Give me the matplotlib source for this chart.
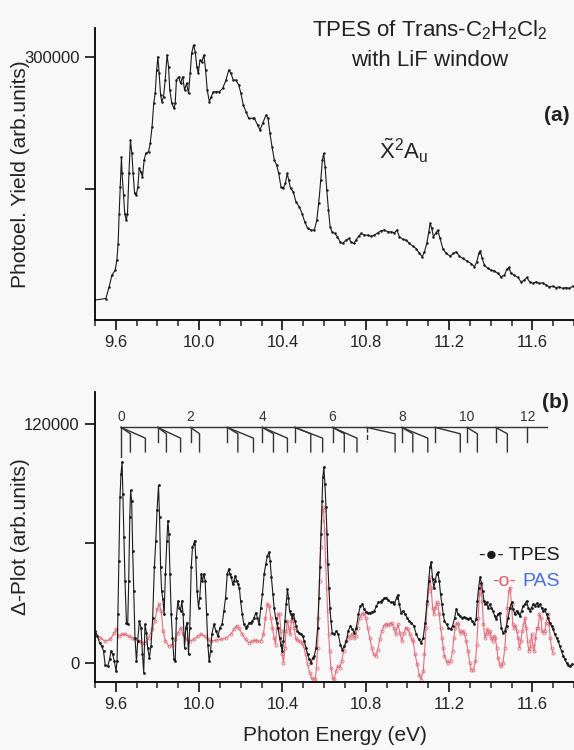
import matplotlib
matplotlib.use('Agg')
import matplotlib.pyplot as plt
from matplotlib.ticker import MultipleLocator, FormatStrFormatter

plt.rcParams['font.family'] = ['Liberation Sans', 'DejaVu Sans']
plt.rcParams['mathtext.fontset'] = 'custom'
plt.rcParams['mathtext.rm'] = 'Liberation Sans'
plt.rcParams['mathtext.it'] = 'Liberation Sans:italic'
plt.rcParams['mathtext.bf'] = 'Liberation Sans:bold'

# ---- (a) TPES with LiF window, photoelectron yield ----
top_E = [9.496, 9.552, 9.568, 9.581, 9.597, 9.605, 9.611, 9.616, 9.621, 9.627, 9.630,
         9.637, 9.643, 9.650, 9.656, 9.663, 9.670, 9.677, 9.683, 9.690, 9.698, 9.706,
         9.712, 9.720, 9.728, 9.736, 9.744, 9.757, 9.765, 9.774, 9.782, 9.789, 9.796,
         9.802, 9.808, 9.815, 9.821, 9.829, 9.837, 9.846, 9.853, 9.859, 9.869, 9.879,
         9.885, 9.891, 9.901, 9.911, 9.921, 9.930, 9.940, 9.949, 9.957, 9.964, 9.973,
         9.981, 9.989, 9.996, 10.004, 10.013, 10.023, 10.031, 10.039, 10.049, 10.058,
         10.068, 10.081, 10.097, 10.113, 10.129, 10.142, 10.153, 10.164, 10.177, 10.190,
         10.201, 10.212, 10.225, 10.238, 10.257, 10.265, 10.281, 10.292, 10.305, 10.321,
         10.331, 10.340, 10.350, 10.361, 10.372, 10.382, 10.393, 10.404, 10.414, 10.423,
         10.430, 10.439, 10.452, 10.465, 10.481, 10.494, 10.507, 10.521, 10.537, 10.553,
         10.565, 10.574, 10.584, 10.592, 10.598, 10.605, 10.613, 10.621, 10.629, 10.638,
         10.651, 10.664, 10.677, 10.689, 10.705, 10.718, 10.729, 10.742, 10.753, 10.766,
         10.778, 10.793, 10.809, 10.825, 10.842, 10.858, 10.874, 10.890, 10.906, 10.922,
         10.938, 10.949, 10.962, 10.978, 10.994, 11.010, 11.026, 11.042, 11.058, 11.071,
         11.082, 11.093, 11.103, 11.109, 11.117, 11.125, 11.135, 11.146, 11.157, 11.170,
         11.186, 11.205, 11.221, 11.234, 11.250, 11.266, 11.285, 11.306, 11.322, 11.333,
         11.343, 11.350, 11.359, 11.370, 11.386, 11.402, 11.418, 11.434, 11.450, 11.466,
         11.477, 11.487, 11.498, 11.514, 11.530, 11.546, 11.562, 11.573, 11.587, 11.603,
         11.618, 11.634, 11.650, 11.666, 11.682, 11.698, 11.714, 11.730, 11.746, 11.762,
         11.778, 11.794]
top_yield = [116500, 117700, 126500, 135300, 139100, 146600, 159000, 181800, 202000, 224600, 212000,
             195700, 181800, 176800, 181800, 212000, 237100, 227100, 212000, 196900, 195700, 202000,
             215800, 213300, 209500, 222100, 227100, 228400, 234600, 247200, 264800, 272300, 290000,
             300000, 287400, 271100, 266100, 269800, 282400, 301300, 292500, 274900, 264800, 261000,
             264800, 282400, 284900, 279900, 284900, 274900, 279900, 272300, 287400, 302500, 308800,
             303800, 292500, 287400, 297500, 296200, 301300, 290000, 274900, 266100, 269800,
             273600, 273600, 273600, 276100, 282400, 290000, 287400, 282400, 282400, 278600,
             272300, 263500, 258500, 253500, 253500, 253500, 248500, 244700, 249700, 256000,
             253500, 242200, 232100, 222100, 218300, 212000, 202000, 200700, 204500, 212000,
             207000, 200700, 198200, 190600, 186900, 181800, 175600, 170500, 169300, 169300,
             176800, 189400, 207000, 222100, 227100, 217000, 199400, 184400, 171800, 168000,
             166800, 164300, 160500, 159200, 161700, 163000, 160500, 159200, 161700, 164700,
             166800, 165500, 165500, 164700, 165500, 167300, 168800, 169300, 168000, 168000,
             167300, 169300, 164300, 162300, 161700, 159200, 157200, 155400, 151700, 149200,
             152900, 159200, 168000, 174300, 170500, 164300, 166800, 169300, 163000, 155400,
             151700, 149700, 151700, 152900, 149700, 147900, 146100, 144100, 141600, 145400,
             151700, 153700, 147900, 142900, 140400, 139100, 138600, 136600, 134100, 135300,
             139600, 141100, 136600, 135300, 133600, 130300, 131600, 133600, 130300, 129100,
             130300, 129100, 129600, 127800, 126500, 127000, 126000, 126500, 125300, 126000,
             125300, 127000]

# ---- (b) Delta-plot: TPES and PAS ----
tpes_E = [9.501, 9.512, 9.522, 9.532, 9.541, 9.549, 9.561, 9.570, 9.577, 9.585, 9.593,
          9.601, 9.606, 9.610, 9.615, 9.620, 9.625, 9.630, 9.634, 9.639, 9.644, 9.651,
          9.657, 9.662, 9.667, 9.671, 9.676, 9.681, 9.686, 9.692, 9.699, 9.705, 9.713,
          9.721, 9.728, 9.734, 9.740, 9.747, 9.753, 9.761, 9.769, 9.777, 9.785, 9.792,
          9.798, 9.805, 9.810, 9.815, 9.820, 9.826, 9.832, 9.838, 9.845, 9.850, 9.855,
          9.860, 9.866, 9.872, 9.879, 9.885, 9.891, 9.898, 9.904, 9.911, 9.917, 9.923,
          9.930, 9.936, 9.942, 9.949, 9.955, 9.962, 9.968, 9.974, 9.979, 9.984, 9.990,
          9.997, 10.003, 10.010, 10.016, 10.023, 10.029, 10.036, 10.042, 10.048, 10.055,
          10.061, 10.071, 10.081, 10.090, 10.100, 10.110, 10.119, 10.127, 10.135, 10.142,
          10.148, 10.155, 10.161, 10.167, 10.174, 10.180, 10.186, 10.193, 10.199, 10.207,
          10.215, 10.224, 10.232, 10.240, 10.248, 10.256, 10.264, 10.272, 10.280, 10.288,
          10.296, 10.304, 10.312, 10.320, 10.328, 10.336, 10.341, 10.347, 10.354, 10.360,
          10.367, 10.373, 10.379, 10.386, 10.392, 10.399, 10.405, 10.412, 10.418, 10.424,
          10.429, 10.434, 10.440, 10.447, 10.453, 10.460, 10.466, 10.472, 10.480, 10.489,
          10.497, 10.505, 10.513, 10.521, 10.529, 10.537, 10.545, 10.553, 10.561, 10.569,
          10.575, 10.580, 10.585, 10.590, 10.594, 10.599, 10.604, 10.609, 10.614, 10.618,
          10.623, 10.628, 10.633, 10.639, 10.649, 10.659, 10.668, 10.678, 10.687, 10.697,
          10.707, 10.716, 10.726, 10.736, 10.745, 10.755, 10.765, 10.774, 10.784, 10.793,
          10.803, 10.813, 10.822, 10.832, 10.842, 10.851, 10.861, 10.871, 10.880, 10.890,
          10.899, 10.909, 10.919, 10.929, 10.938, 10.948, 10.954, 10.961, 10.970, 10.980,
          10.989, 10.999, 11.009, 11.018, 11.031, 11.043, 11.054, 11.066, 11.076, 11.085,
          11.095, 11.102, 11.108, 11.114, 11.121, 11.127, 11.134, 11.140, 11.146, 11.153,
          11.159, 11.166, 11.172, 11.178, 11.188, 11.197, 11.207, 11.217, 11.227, 11.235,
          11.243, 11.252, 11.262, 11.272, 11.281, 11.291, 11.301, 11.311, 11.320, 11.330,
          11.336, 11.342, 11.349, 11.355, 11.361, 11.368, 11.374, 11.380, 11.387, 11.395,
          11.403, 11.411, 11.419, 11.427, 11.435, 11.443, 11.451, 11.459, 11.468, 11.476,
          11.484, 11.492, 11.500, 11.508, 11.516, 11.524, 11.532, 11.540, 11.548, 11.556,
          11.564, 11.572, 11.580, 11.588, 11.596, 11.604, 11.612, 11.620, 11.628, 11.636,
          11.644, 11.652, 11.660, 11.668, 11.676, 11.684, 11.692, 11.700, 11.708, 11.716,
          11.724, 11.732, 11.740, 11.748, 11.756, 11.764, 11.772, 11.780, 11.791]
tpes_delta = [16000, 13400, 10100, 8400, 5900, -1200, -1700, 1700, 5900, 4200, 800,
              -4200, 800, 24400, 51300, 83200, 95000, 100900, 84900, 63000, 41200, 20200,
              19300, 41200, 73100, 86600, 81500, 56300, 36100, 12600, 800, 10900, 21000,
              17700, 4200, -5000, 19300, 15100, 7600, 2500, 8400, 22700, 47900, 61400,
              76500, 89100, 73100, 47900, 36100, 31900, 24400, 44500, 61400, 71400, 64700,
              44500, 24400, 12600, 1700, 800, 22700, 31100, 27700, 26100, 31100, 24400,
              7600, 17700, 20200, 4200, 17700, 47900, 58000, 59700, 61400, 53000, 36100,
              27700, 32800, 44500, 41200, 44500, 41200, 24400, 9200, 800, 5900,
              14300, 19300, 16000, 13400, 17700, 19300, 26100, 32800, 44500, 47100,
              44500, 42900, 39500, 41200, 43700, 41200, 39500, 37800, 31100, 24400,
              19300, 17700, 18500, 20200, 20000, 21000, 22700, 25200, 22700, 19300,
              27700, 34500, 44500, 49600, 53800, 55500, 51300, 42900, 34500, 27700,
              22700, 20200, 17700, 12600, 9200, 5900, 10900, 21000, 29400, 37000,
              32800, 26100, 24400, 22700, 24400, 21000, 18500, 16000, 15100, 14300,
              13400, 10900, 7600, 4200, 1700, 0, 2500, 3400, 7600, 17700,
              32800, 47900, 64700, 81500, 93300, 98300, 89900, 78200, 64700, 49600,
              37800, 27700, 21000, 15100, 14300, 16000, 14300, 9200, 6700, 8400,
              10900, 16000, 18500, 16800, 15100, 17700, 24400, 28600, 29400, 26900,
              25700, 25200, 25200, 25700, 26100, 28600, 30300, 30800, 31400, 32400,
              32800, 31400, 30300, 30300, 29400, 32800, 34100, 29400, 25200, 26100,
              24400, 22700, 21000, 20200, 18500, 14300, 11800, 10100, 12600, 20200,
              31100, 41200, 47900, 50400, 42000, 37800, 41200, 44500, 45400, 41200,
              34500, 29400, 24400, 21000, 19300, 17700, 16800, 18500, 22700, 26900,
              24400, 23500, 22700, 23000, 22700, 21900, 22700, 21000, 19300, 21900,
              31100, 37800, 42900, 40300, 36100, 31100, 29400, 30300, 27700, 29400,
              27700, 26100, 23500, 21900, 24400, 25200, 17700, 15100, 16000, 18500,
              22700, 27700, 30300, 26900, 24400, 26100, 25200, 23500, 26100, 28600,
              29400, 31100, 27700, 26100, 27700, 29400, 28600, 29900, 28600, 29400,
              27700, 26100, 26900, 24400, 22700, 20200, 18500, 16800, 14300, 12600,
              10900, 8400, 5900, 3400, 1700, 0, -1200, -1700, -500]

pas_E = [9.501, 9.524, 9.549, 9.573, 9.593, 9.602, 9.614, 9.630, 9.646, 9.662, 9.678,
         9.694, 9.710, 9.726, 9.742, 9.758, 9.774, 9.787, 9.798, 9.808, 9.818, 9.827,
         9.838, 9.855, 9.870, 9.886, 9.899, 9.911, 9.923, 9.939, 9.955, 9.975, 9.994,
         10.010, 10.026, 10.042, 10.058, 10.079, 10.103, 10.127, 10.151, 10.167, 10.180,
         10.191, 10.207, 10.223, 10.239, 10.256, 10.267, 10.280, 10.296, 10.309, 10.318,
         10.328, 10.336, 10.344, 10.352, 10.360, 10.367, 10.373, 10.379, 10.386, 10.392,
         10.399, 10.405, 10.412, 10.418, 10.424, 10.431, 10.437, 10.443, 10.450, 10.456,
         10.463, 10.472, 10.482, 10.492, 10.502, 10.511, 10.521, 10.531, 10.540, 10.550,
         10.558, 10.564, 10.569, 10.573, 10.578, 10.583, 10.588, 10.593, 10.598, 10.602,
         10.607, 10.612, 10.617, 10.622, 10.627, 10.633, 10.641, 10.649, 10.657, 10.665,
         10.675, 10.684, 10.694, 10.704, 10.713, 10.723, 10.733, 10.742, 10.752, 10.761,
         10.771, 10.781, 10.790, 10.800, 10.809, 10.819, 10.829, 10.838, 10.848, 10.858,
         10.867, 10.877, 10.887, 10.896, 10.906, 10.916, 10.925, 10.935, 10.944, 10.954,
         10.964, 10.973, 10.983, 10.993, 11.002, 11.012, 11.022, 11.028, 11.037, 11.047,
         11.057, 11.066, 11.076, 11.082, 11.089, 11.095, 11.102, 11.108, 11.114, 11.121,
         11.127, 11.134, 11.140, 11.146, 11.153, 11.159, 11.166, 11.172, 11.178, 11.188,
         11.197, 11.207, 11.217, 11.223, 11.230, 11.236, 11.243, 11.251, 11.259, 11.267,
         11.275, 11.283, 11.291, 11.299, 11.307, 11.317, 11.327, 11.333, 11.340, 11.346,
         11.352, 11.359, 11.365, 11.372, 11.378, 11.384, 11.391, 11.397, 11.403, 11.409,
         11.416, 11.422, 11.429, 11.435, 11.443, 11.451, 11.459, 11.468, 11.474, 11.480,
         11.487, 11.493, 11.500, 11.506, 11.512, 11.519, 11.525, 11.532, 11.538, 11.545,
         11.551, 11.558, 11.564, 11.570, 11.577, 11.583, 11.590, 11.596, 11.602, 11.609,
         11.615, 11.622, 11.628, 11.634, 11.641, 11.647, 11.654, 11.660, 11.667, 11.673,
         11.680, 11.686, 11.692, 11.699]
pas_delta = [14600, 12600, 10900, 11800, 15100, 16800, 13400, 14300, 14300, 13400, 12600,
             11800, 10900, 10100, 10100, 12600, 16800, 21000, 26900, 29400, 26100, 16000,
             10900, 8400, 9200, 11800, 15100, 17700, 14300, 11800, 10900, 11800, 13400,
             14300, 13400, 11800, 10900, 11300, 11800, 12300, 14300, 16800, 18500,
             17300, 14300, 11800, 10100, 10900, 11300, 10900, 10900, 14300, 22700,
             29400, 28600, 22700, 17700, 12600, 9200, 17700, 24400, 24400, 16000,
             4200, 0, 7600, 16000, 21000, 17700, 14300, 21000, 21900, 17700,
             12600, 11300, 10900, 10100, 8400, 4200, -800, -5000, -7600, -8400,
             -7900, -2500, 7600, 22700, 41200, 58000, 71400, 78200, 76500, 66400,
             51300, 37800, 26100, 14300, 5900, -2500, -7600, -7900, -4200, -1700,
             -2500, 800, 5900, 10900, 13400, 12600, 14300, 12600, 13400, 17700,
             22700, 24400, 25200, 22700, 17700, 12600, 7600, 4200, 3400, 6700,
             11800, 16000, 18500, 19700, 19000, 19700, 20200, 17700, 14300, 19300,
             15100, 10900, 15100, 17700, 16800, 14300, 11800, 10900, 4200, -800,
             -5900, -8400, -4200, 4200, 17700, 29400, 36100, 42900, 37800, 27700,
             24400, 27700, 30300, 29400, 24400, 17700, 12600, 7600, 3400, 800,
             0, 800, 5900, 12600, 17700, 20200, 19300, 16000, 15100, 16000,
             14300, 10900, 5900, 0, -3400, -3400, 800, 9200, 22700, 34500,
             39500, 31100, 19300, 12600, 14300, 16800, 14300, 16000, 12600, 10900,
             13400, 12600, 7600, 2500, -800, -1700, 0, 7600, 17700, 27700,
             36100, 37800, 29400, 19300, 17700, 18500, 16000, 12600, 7600, 10900,
             16000, 19300, 22700, 17700, 10900, 5900, 7600, 14300, 9200, 5900,
             12600, 17700, 17700, 24400, 22700, 16000, 15100, 16000, 20200, 24400,
             19300, 12600, 7600, 5000]

# vibrational progression ladder drawn above the delta plot
ladder_E = [9.625, 9.801, 9.959, 10.135, 10.304, 10.459, 10.641, 10.805, 10.973,
            11.133, 11.286, 11.424, 11.576]
ladder_branches = [[9.670, 9.742], [9.843, 9.911], [10.002], [10.186, 10.261],
                   [10.357, 10.424], [10.536, 10.593], [10.697, 10.758], [10.941],
                   [11.026, 11.098], [11.254], [11.336], [11.480], []]
ladder_end = 11.668
ladder_labels = ['0', '', '2', '', '4', '', '6', '', '8', '', '10', '', '12']

bg = '#f8f8f8'
fig = plt.figure(figsize=(5.74, 7.5), dpi=100, facecolor=bg)


def style_axis(ax):
    ax.set_facecolor(bg)
    ax.spines['top'].set_visible(False)
    ax.spines['right'].set_visible(False)
    ax.spines['left'].set_linewidth(1.3)
    ax.spines['bottom'].set_linewidth(1.3)
    ax.set_xlim(9.5, 11.8)
    ax.xaxis.set_major_locator(MultipleLocator(0.4))
    ax.xaxis.set_minor_locator(MultipleLocator(0.1))
    ax.xaxis.set_major_formatter(FormatStrFormatter('%.1f'))
    ax.tick_params(axis='both', which='major', direction='out', length=7, width=1.3,
                   labelsize=12, colors='#222222', pad=4)
    ax.tick_params(axis='x', which='minor', direction='out', length=4, width=1.1,
                   colors='#222222')


# top panel
ax1 = fig.add_axes([0.1655, 0.5733, 0.8345, 0.3893])
style_axis(ax1)
ax1.plot(top_E, top_yield, color='#1a1a1a', lw=0.8, marker='o', ms=1.8, mew=0)
ax1.set_ylim(101500, 321600)
ax1.set_yticks([200000, 300000])
ax1.set_yticklabels(['', '300000'])
ax1.set_ylabel('Photoel. Yield (arb.units)', fontsize=15, color='#222222')
ax1.yaxis.set_label_coords(-0.135, 0.5)
ax1.text(0.99, 0.70, '(a)', transform=ax1.transAxes, fontsize=15, fontweight='bold',
         ha='right', va='center', color='#222222')
ax1.text(10.98, 229000, r'$\tilde{\mathrm{X}}^2\mathrm{A}_\mathrm{u}$', fontsize=16,
         ha='center', va='center', color='#222222')

fig.text(430 / 574, 1 - 30 / 750, 'TPES of Trans-C$_2$H$_2$Cl$_2$', fontsize=16,
         ha='center', va='center', color='#222222')
fig.text(430 / 574, 1 - 60 / 750, 'with LiF window', fontsize=16,
         ha='center', va='center', color='#222222')

# bottom panel
ax2 = fig.add_axes([0.1655, 0.0907, 0.8345, 0.3867])
style_axis(ax2)
ax2.plot(pas_E, pas_delta, color='#e0707c', lw=0.8, marker='o', ms=2.2,
         mfc='none', mew=0.6, zorder=2)
ax2.plot(tpes_E, tpes_delta, color='#1a1a1a', lw=0.8, marker='o', ms=2.0, mew=0,
         zorder=3)
ax2.set_ylim(-9600, 136000)
ax2.set_yticks([0, 60000, 120000])
ax2.set_yticklabels(['0', '', '120000'])
ax2.set_ylabel('\u0394-Plot (arb.units)', fontsize=15, color='#222222')
ax2.yaxis.set_label_coords(-0.135, 0.5)
ax2.set_xlabel('Photon Energy (eV)', fontsize=15, color='#222222', labelpad=10)
ax2.text(0.99, 0.962, '(b)', transform=ax2.transAxes, fontsize=15, fontweight='bold',
         ha='right', va='center', color='#222222')

# ladder
line_y = 118200
lk = dict(color='#333333', lw=1.0)
ax2.plot([ladder_E[0], ladder_end], [line_y, line_y], **lk)
for i, e0 in enumerate(ladder_E):
    stem_end = 103400 if i == 0 else 110900
    ls = '--' if i == 7 else '-'
    ax2.plot([e0, e0], [line_y, stem_end], color='#333333', lw=1.0, ls=ls)
    for j, eb in enumerate(ladder_branches[i]):
        knee = 115000 if j == 0 else 112800
        ax2.plot([e0, eb, eb], [line_y, knee, 105900], **lk)
    if ladder_labels[i]:
        ax2.text(e0, line_y + 1600, ladder_labels[i], fontsize=10, ha='center',
                 va='bottom', color='#333333')

# legend written as text
fig.text(560 / 574, 1 - 555 / 750, '-\u25cf- TPES', fontsize=14, ha='right',
         va='center', color='#1a1a1a')
fig.text(516 / 574, 1 - 582 / 750, '-o-', fontsize=14, ha='right', va='center',
         color='#e05a6a')
fig.text(560 / 574, 1 - 582 / 750, 'PAS', fontsize=14, ha='right', va='center',
         color='#4a6ee0')

plt.savefig('out.png', dpi=100, facecolor=bg)
